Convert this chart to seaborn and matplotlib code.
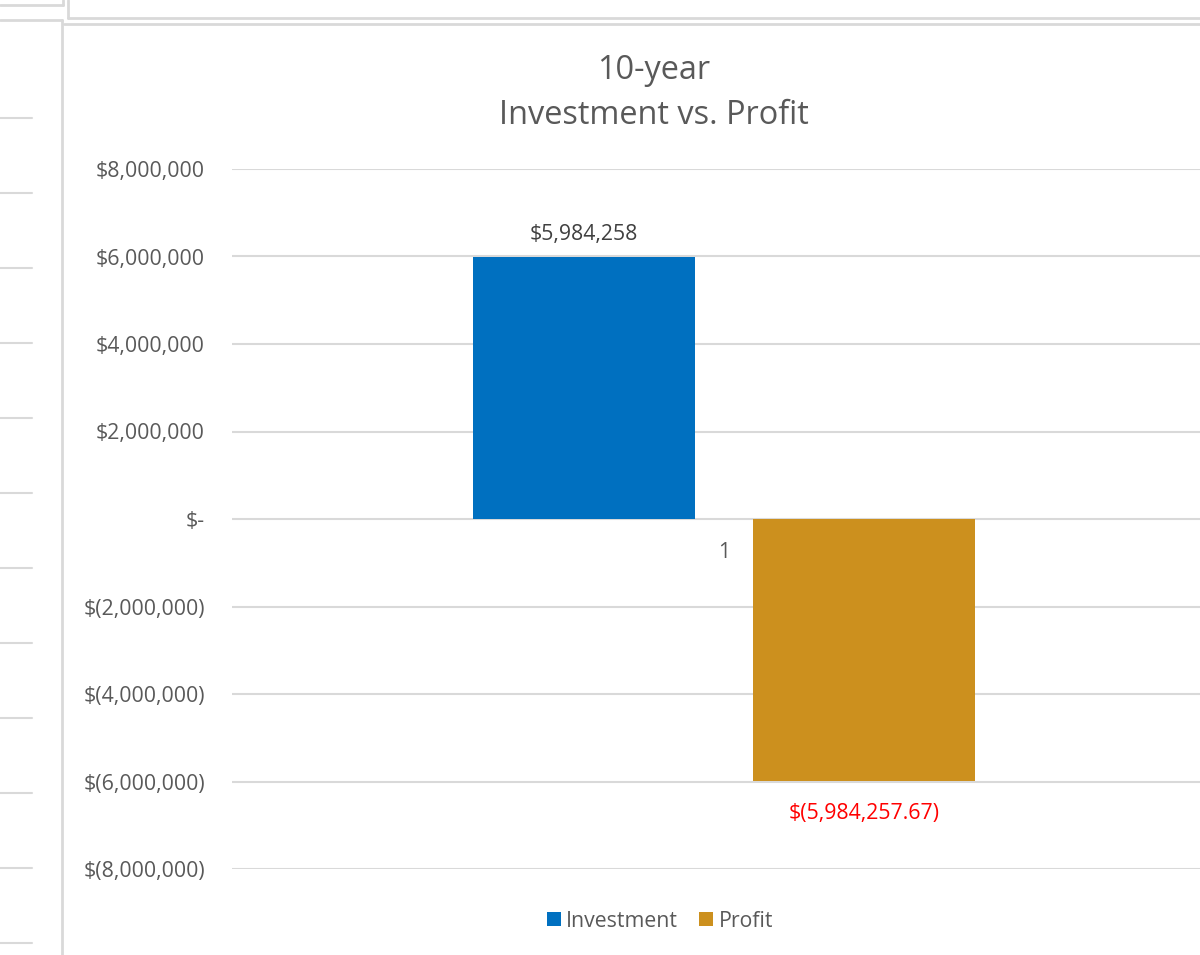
import matplotlib
matplotlib.use("Agg")
import matplotlib.pyplot as plt
from matplotlib.lines import Line2D
from matplotlib.ticker import FuncFormatter
import seaborn as sns
import pandas as pd

# ---- data ----
categories = ["1", "1"]
series = ["Investment", "Profit"]
values = [5984257.67, -5984257.67]
bar_labels = ["$5,984,258", "$(5,984,257.67)"]
yticks = [-8000000, -6000000, -4000000, -2000000, 0, 2000000, 4000000, 6000000, 8000000]
title = "10-year\nInvestment vs. Profit"

colors = {"Investment": "#0070C0", "Profit": "#CC901E"}
label_colors = ["#404040", "#FF0000"]
GREY = "#595959"
FS = 15.3

sns.set_theme(style="white")
plt.rcParams["font.family"] = ["Open Sans", "DejaVu Sans"]

df = pd.DataFrame({"Category": categories, "Series": series, "Value": values})

fig = plt.figure(figsize=(12, 9.55), dpi=100)
H = 955.0
W = 1200.0
ax_left = 232 / W
ax_right = 1216 / W
ax_top = 169 / H
ax_bot = 869 / H
ax = fig.add_axes([ax_left, 1 - ax_bot, ax_right - ax_left, ax_bot - ax_top])

sns.barplot(data=df, x="Category", y="Value", hue="Series", palette=colors,
            width=0.57, gap=0.21, ax=ax, zorder=3, saturation=1, linewidth=0)

ax.set_ylim(-8000000, 8000000)
ax.set_xlim(-0.5, 0.5)
ax.set_yticks(yticks)


def money(v, pos=None):
    if v == 0:
        return "$-"
    if v < 0:
        return "$({:,.0f})".format(-v)
    return "${:,.0f}".format(v)


ax.yaxis.set_major_formatter(FuncFormatter(money))
ax.grid(axis="y", color="#D9D9D9", linewidth=1.5, zorder=0)
ax.set_axisbelow(True)
for s in ax.spines.values():
    s.set_visible(False)
ax.set_xlabel("")
ax.set_ylabel("")
ax.tick_params(axis="y", length=0, pad=19.5, labelsize=FS, labelcolor=GREY)
ax.spines["bottom"].set_position(("data", 0))
ax.tick_params(axis="x", length=0, pad=16.5, labelsize=FS, labelcolor=GREY)

# bar labels
for cont, lab, col, pad in zip(ax.containers, bar_labels, label_colors, [9, 16]):
    ax.bar_label(cont, labels=[lab], padding=pad, fontsize=FS, color=col)

# title
fig.text(654 / W, 1 - 93 / H, title, ha="center", va="center", fontsize=23.4,
         color=GREY, linespacing=1.45)

# legend
leg = ax.legend(loc="center", bbox_to_anchor=(660 / W, 1 - 921 / H),
                bbox_transform=fig.transFigure, ncol=2, frameon=False,
                fontsize=FS, handlelength=0.65, handleheight=0.65,
                handletextpad=0.25, columnspacing=1.0)
for t in leg.get_texts():
    t.set_color(GREY)

# spreadsheet frame decorations
fc = "#D9D9D9"
fig.add_artist(Line2D([62 / W, 62 / W], [0, 1 - 20 / H], color=fc, lw=2, transform=fig.transFigure))
fig.add_artist(Line2D([64 / W, 1], [1 - 24 / H, 1 - 24 / H], color=fc, lw=2, transform=fig.transFigure))
fig.add_artist(Line2D([68 / W, 1], [1 - 18 / H, 1 - 18 / H], color=fc, lw=2, transform=fig.transFigure))
fig.add_artist(Line2D([68 / W, 68 / W], [1 - 18 / H, 1], color=fc, lw=2, transform=fig.transFigure))
fig.add_artist(Line2D([0, 62 / W], [1 - 20 / H, 1 - 20 / H], color=fc, lw=2, transform=fig.transFigure))
fig.add_artist(Line2D([0, 63 / W], [1 - 5 / H, 1 - 5 / H], color=fc, lw=2, transform=fig.transFigure))
fig.add_artist(Line2D([63 / W, 63 / W], [1 - 5 / H, 1], color=fc, lw=2, transform=fig.transFigure))
for yy in [118, 193, 268, 343, 418, 493, 568, 643, 718, 793, 868, 943]:
    fig.add_artist(Line2D([0, 32 / W], [1 - yy / H, 1 - yy / H], color=fc, lw=1.5,
                          transform=fig.transFigure))

fig.savefig("out.png", dpi=100)
